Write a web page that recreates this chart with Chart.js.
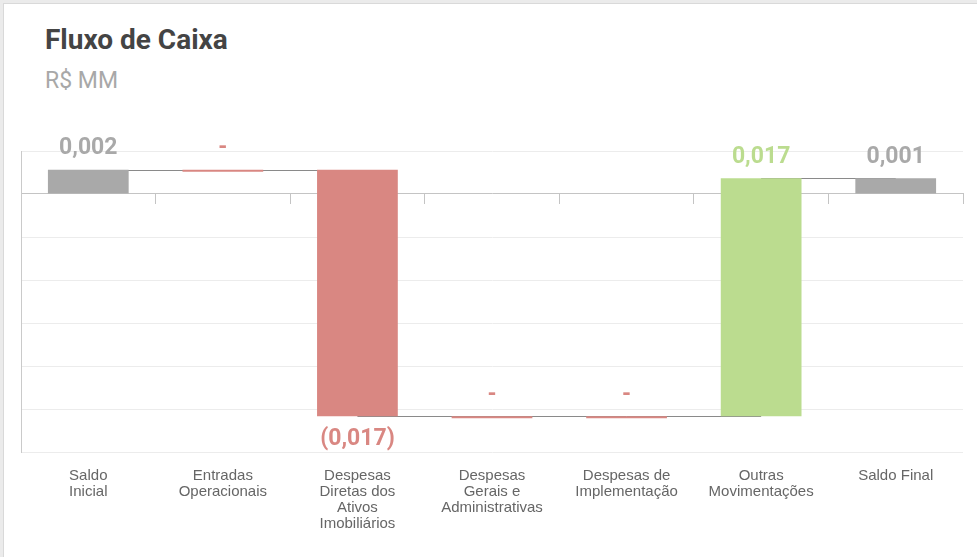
<!DOCTYPE html>
<html>
<head>
<meta charset="utf-8">
<script src="https://cdn.jsdelivr.net/npm/chart.js@4/dist/chart.umd.min.js"></script>
<style>
  body { margin: 0; background: #ebebeb; width: 977px; height: 557px; overflow: hidden; }
  .card { position: absolute; left: 3px; top: 3px; width: 1000px; height: 600px; background: #fff; border-left: 1px solid #d9d9d9; border-top: 1px solid #d9d9d9; }
  .titulo { position: absolute; left: 45px; top: 26px; font: bold 28px/28px Roboto, sans-serif; color: #444; }
  .sub { position: absolute; left: 45px; top: 69px; font: 23px/23px Roboto, sans-serif; color: #a8a8a8; }
  canvas { position: absolute; left: 0; top: 0; }
</style>
</head>
<body>
<div class="card"></div>
<div class="titulo">Fluxo de Caixa</div>
<div class="sub">R$ MM</div>
<canvas id="fluxo" width="977" height="557"></canvas>
<script>
const categorias = [
  ["Saldo", "Inicial"],
  ["Entradas", "Operacionais"],
  ["Despesas", "Diretas dos", "Ativos", "Imobiliários"],
  ["Despesas", "Gerais e", "Administrativas"],
  ["Despesas de", "Implementação"],
  ["Outras", "Movimentações"],
  ["Saldo Final"]
];
// variações em R$ MM (saldos são totais)
const valores = [0.0017, 0, -0.0172, 0, 0, 0.0166, 0.0011];
const tipos = ["total", "delta", "delta", "delta", "delta", "delta", "total"];
const eixoY = { min: -0.018, max: 0.003, passo: 0.003 };

const CINZA = "#a9a9a9";
const VERMELHO = "#d98782";
const VERDE = "#bbdc8f";

// monta as barras flutuantes da cascata
const barras = [];
const niveis = [];
let acumulado = 0;
valores.forEach((v, i) => {
  if (tipos[i] === "total") {
    barras.push([0, v]);
    acumulado = v;
  } else {
    barras.push([acumulado, acumulado + v]);
    acumulado += v;
  }
  niveis.push(acumulado);
});

const cores = valores.map((v, i) => tipos[i] === "total" ? CINZA : (v > 0 ? VERDE : VERMELHO));

function formata(v) {
  if (Math.abs(v) < 0.0005) return "-";
  const s = Math.abs(v).toFixed(3).replace(".", ",");
  return v < 0 ? "(" + s + ")" : s;
}

// linhas de ligação entre as barras
const conectores = {
  id: "conectores",
  beforeDatasetsDraw(chart) {
    const meta = chart.getDatasetMeta(0);
    const y = chart.scales.y;
    const ctx = chart.ctx;
    ctx.save();
    ctx.strokeStyle = "#8a8a8a";
    ctx.lineWidth = 1;
    for (let i = 0; i < meta.data.length - 1; i++) {
      const py = Math.round(y.getPixelForValue(niveis[i])) + 0.5;
      ctx.beginPath();
      ctx.moveTo(meta.data[i].x, py);
      ctx.lineTo(meta.data[i + 1].x, py);
      ctx.stroke();
    }
    ctx.restore();
  }
};

// rótulos de valor
const rotulos = {
  id: "rotulos",
  afterDatasetsDraw(chart) {
    const meta = chart.getDatasetMeta(0);
    const ctx = chart.ctx;
    ctx.save();
    ctx.font = "bold 23px Roboto, sans-serif";
    ctx.textAlign = "center";
    ctx.textBaseline = "middle";
    meta.data.forEach((bar, i) => {
      const v = valores[i];
      ctx.fillStyle = cores[i];
      const topo = Math.min(bar.y, bar.base);
      const fundo = Math.max(bar.y, bar.base);
      const py = v < 0 && Math.abs(v) >= 0.0005 ? fundo + 23 : topo - 21;
      ctx.fillText(formata(v), bar.x, py);
    });
    ctx.restore();
  }
};

new Chart(document.getElementById("fluxo"), {
  type: "bar",
  data: {
    labels: categorias,
    datasets: [{
      data: barras,
      backgroundColor: cores,
      borderWidth: 0,
      minBarLength: 2,
      barPercentage: 0.75,
      categoryPercentage: 0.8
    }]
  },
  options: {
    responsive: false,
    animation: false,
    layout: { padding: { left: 21, right: 14, top: 151, bottom: 0 } },
    plugins: { legend: { display: false }, tooltip: { enabled: false } },
    scales: {
      x: {
        grid: { display: false },
        border: { display: false },
        ticks: {
          color: "#666",
          font: { family: "'Liberation Sans', Arial, sans-serif", size: 15, lineHeight: 1.07 },
          padding: 8,
          maxRotation: 0,
          autoSkip: false
        },
        afterFit: s => { s.height = 105; }
      },
      zero: {
        type: "category",
        axis: "x",
        labels: categorias,
        position: { y: 0 },
        offset: true,
        grid: { offset: true, drawOnChartArea: false, drawTicks: true, tickLength: 10, color: "#c4c4c4" },
        border: { display: true, color: "#c4c4c4" },
        ticks: { display: false }
      },
      y: {
        min: eixoY.min,
        max: eixoY.max,
        ticks: { display: false, stepSize: eixoY.passo },
        grid: { color: "#ececec", drawTicks: false },
        border: { display: true, color: "#cacaca" },
        afterFit: s => { s.width = 0; }
      }
    }
  },
  plugins: [conectores, rotulos]
});
</script>
</body>
</html>
